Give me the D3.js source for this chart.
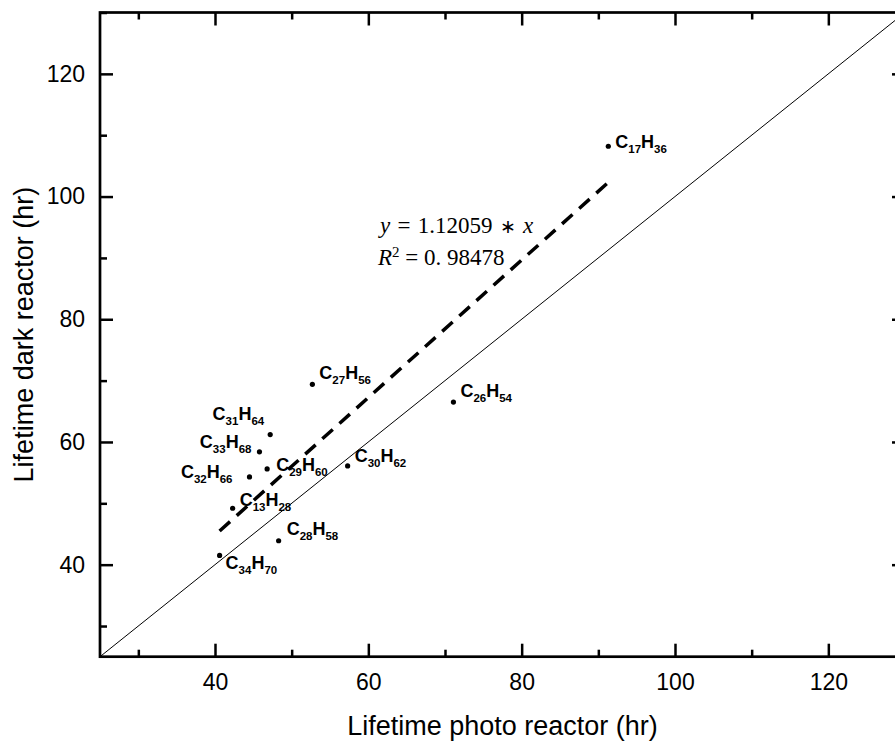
<!DOCTYPE html>
<html>
<head>
<meta charset="utf-8">
<script src="https://cdn.jsdelivr.net/npm/d3@7"></script>
<style>
  body { margin: 0; background: #fff; }
  svg { display: block; }
</style>
</head>
<body>
<div id="chart"></div>
<script>
// Compound lifetimes: photo reactor vs dark reactor (hr)
var compounds = ["C17H36", "C27H56", "C26H54", "C30H62", "C31H64", "C33H68",
                 "C29H60", "C32H66", "C13H28", "C28H58", "C34H70"];
var photoLife = [91.3, 52.7, 71.1, 57.3, 47.2, 45.8, 46.8, 44.5, 42.3, 48.3, 40.6];
var darkLife  = [108.2, 69.4, 66.5, 56.1, 61.2, 58.4, 55.6, 54.3, 49.2, 43.9, 41.5];
var slope = 1.12059;
var rSquared = "0. 98478";
var majorTicks = [40, 60, 80, 100, 120];
var minorTicks = [30, 50, 70, 90, 110, 130];

// label placement relative to each point [anchor, dx, dy]
var labelPlace = [["start", 7, 2], ["start", 7, -5], ["start", 7, -5], ["start", 7, -4],
                  ["end", -6, -15], ["end", -8, -4], ["start", 9, 2], ["end", -17, 1],
                  ["start", 7, -2], ["start", 8, -6], ["start", 6, 14]];

var width = 895, height = 741;
var plotLeft = 100, plotRight = 905, plotTop = 12.5, plotBottom = 656.7;

var svg = d3.select('#chart')
    .append('svg')
    .attr('width', width)
    .attr('height', height)
    .style('font-family', 'Liberation Sans, Arial, sans-serif');

var x = d3.scaleLinear().domain([25, 130]).range([plotLeft, plotRight]);
var y = d3.scaleLinear().domain([25, 130]).range([plotBottom, plotTop]);

var data = compounds.map((d, i) => ({ name: d, px: photoLife[i], dy: darkLife[i], place: labelPlace[i] }));

svg.append('clipPath').attr('id', 'plotClip')
    .append('rect')
    .attr('x', plotLeft).attr('y', plotTop)
    .attr('width', plotRight - plotLeft).attr('height', plotBottom - plotTop);

// y = x reference line
svg.append('line')
    .attr('clip-path', 'url(#plotClip)')
    .attr('x1', x(25)).attr('y1', y(25))
    .attr('x2', x(130)).attr('y2', y(130))
    .attr('stroke', '#000')
    .attr('stroke-width', 1);

// fitted line
var xMin = d3.min(photoLife), xMax = d3.max(photoLife);
svg.append('line')
    .attr('x1', x(xMin)).attr('y1', y(slope * xMin))
    .attr('x2', x(xMax)).attr('y2', y(slope * xMax))
    .attr('stroke', '#000')
    .attr('stroke-width', 3.5)
    .attr('stroke-dasharray', '14,9');

// axes
function styleAxis(g) {
    g.select('.domain').remove();
    g.selectAll('line').attr('stroke', '#000').attr('stroke-width', 2.5);
    g.selectAll('text').style('font-size', '23px').attr('fill', '#000');
}

svg.append('g').attr('transform', 'translate(0,' + plotBottom + ')')
    .call(d3.axisBottom(x).tickValues(majorTicks).tickSize(-13).tickPadding(17).tickFormat(d3.format('d')))
    .call(styleAxis);
svg.append('g').attr('transform', 'translate(0,' + plotBottom + ')')
    .call(d3.axisBottom(x).tickValues(minorTicks).tickSize(-7).tickFormat(''))
    .call(styleAxis);
svg.append('g').attr('transform', 'translate(0,' + plotTop + ')')
    .call(d3.axisTop(x).tickValues(majorTicks).tickSize(-13).tickFormat(''))
    .call(styleAxis);
svg.append('g').attr('transform', 'translate(0,' + plotTop + ')')
    .call(d3.axisTop(x).tickValues(minorTicks).tickSize(-7).tickFormat(''))
    .call(styleAxis);

svg.append('g').attr('transform', 'translate(' + plotLeft + ',0)')
    .call(d3.axisLeft(y).tickValues(majorTicks).tickSize(-13).tickPadding(15).tickFormat(d3.format('d')))
    .call(styleAxis);
svg.append('g').attr('transform', 'translate(' + plotLeft + ',0)')
    .call(d3.axisLeft(y).tickValues(minorTicks).tickSize(-7).tickFormat(''))
    .call(styleAxis);
svg.append('g').attr('transform', 'translate(' + plotRight + ',0)')
    .call(d3.axisRight(y).tickValues(majorTicks).tickSize(-13).tickFormat(''))
    .call(styleAxis);
svg.append('g').attr('transform', 'translate(' + plotRight + ',0)')
    .call(d3.axisRight(y).tickValues(minorTicks).tickSize(-7).tickFormat(''))
    .call(styleAxis);

// frame
svg.append('rect')
    .attr('x', plotLeft).attr('y', plotTop)
    .attr('width', plotRight - plotLeft).attr('height', plotBottom - plotTop)
    .attr('fill', 'none')
    .attr('stroke', '#000')
    .attr('stroke-width', 2.7);

// points
svg.selectAll('.pt')
    .data(data)
    .enter()
    .append('circle')
    .attr('class', 'pt')
    .attr('cx', d => x(d.px))
    .attr('cy', d => y(d.dy))
    .attr('r', 2.6)
    .attr('fill', '#000');

// formula labels with subscripts
var labels = svg.selectAll('.lbl')
    .data(data)
    .enter()
    .append('text')
    .attr('class', 'lbl')
    .attr('x', d => x(d.px) + d.place[1])
    .attr('y', d => y(d.dy) + d.place[2])
    .attr('text-anchor', d => d.place[0])
    .style('font-weight', 'bold')
    .style('font-size', '18px');

labels.each(function (d) {
    var t = d3.select(this);
    var parts = d.name.match(/[A-Z]|\d+/g);
    var shifted = false;
    parts.forEach(p => {
        if (/\d/.test(p)) {
            t.append('tspan').attr('dy', shifted ? 0 : 5).style('font-size', '11.5px').text(p);
            shifted = true;
        } else {
            t.append('tspan').attr('dy', shifted ? -5 : 0).text(p);
            shifted = false;
        }
    });
});

// regression text
var eq = svg.append('g')
    .style('font-family', 'Liberation Serif, Times New Roman, serif')
    .style('font-size', '23px');
var eq1 = eq.append('text').attr('x', 380).attr('y', 233)
    .attr('xml:space', 'preserve')
    .style('word-spacing', '1.5px');
eq1.append('tspan').style('font-style', 'italic').text('y');
eq1.append('tspan').text(' = ' + slope + ' ');
eq1.append('tspan').style('font-size', '19px').text('\u2217');
eq1.append('tspan').text(' ');
eq1.append('tspan').style('font-style', 'italic').text('x');
var eq2 = eq.append('text').attr('x', 378).attr('y', 265).attr('xml:space', 'preserve');
eq2.append('tspan').style('font-style', 'italic').text('R');
eq2.append('tspan').attr('dy', -8).style('font-size', '15px').text('2');
eq2.append('tspan').attr('dy', 8).text(' = ' + rSquared);

// axis titles
svg.append('text')
    .attr('x', (plotLeft + plotRight) / 2)
    .attr('y', 735)
    .attr('text-anchor', 'middle')
    .style('font-size', '27px')
    .text('Lifetime photo reactor (hr)');

svg.append('text')
    .attr('transform', 'translate(33,' + (plotTop + plotBottom) / 2 + ') rotate(-90)')
    .attr('text-anchor', 'middle')
    .style('font-size', '27px')
    .text('Lifetime dark reactor (hr)');
</script>
</body>
</html>
